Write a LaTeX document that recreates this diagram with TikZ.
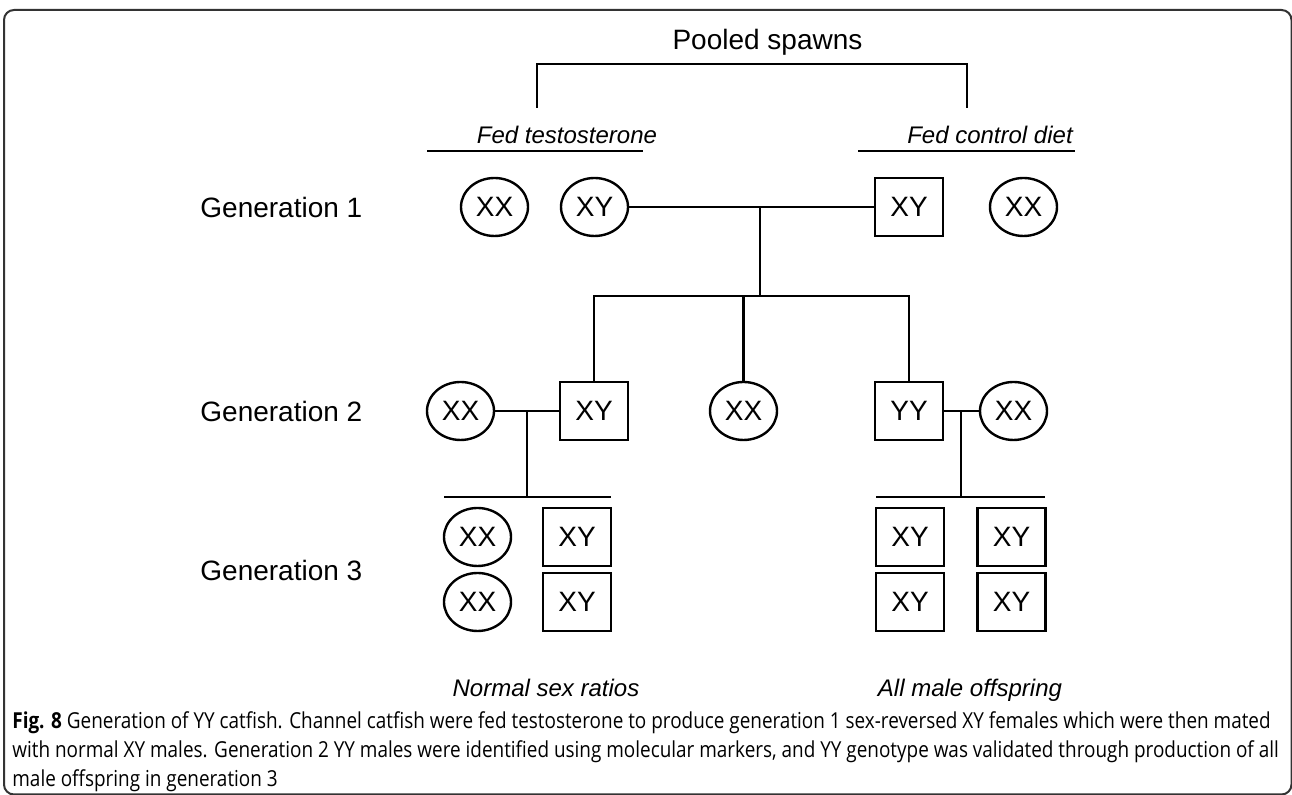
\documentclass[tikz,border=0pt]{standalone}
\usepackage{fontspec}
\setmainfont{Liberation Sans}
\newfontfamily\capfont[FakeStretch=0.86]{Open Sans}
\usetikzlibrary{shapes.geometric}

\tikzset{
	fem/.style={draw,ellipse,line width=1.2pt,minimum width=33.5pt,minimum height=29pt,inner sep=0pt,font=\fontsize{14}{14}\selectfont},
	mal/.style={draw,rectangle,line width=1.2pt,minimum width=34pt,minimum height=29pt,inner sep=0pt,font=\fontsize{14}{14}\selectfont},
	genlabel/.style={anchor=base west,inner sep=0pt,font=\fontsize{14}{16}\selectfont},
	note/.style={anchor=base,inner sep=0pt,font=\fontsize{12}{14}\selectfont\itshape},
	capline/.style={anchor=base west,inner sep=0pt,font=\capfont\fontsize{11}{13}\selectfont},
	link/.style={line width=1.2pt}
}

\begin{document}
\begin{tikzpicture}[x=0.5pt,y=-0.5pt]
		\useasboundingbox (0,0) rectangle (1292,795);
		\draw[line width=1pt,color=black!80,rounded corners=5pt] (4,10) rectangle (1291.5,794.5);
		% top bracket
		\node[anchor=base,inner sep=0pt,font=\fontsize{14}{16}\selectfont] (pool) at (767.5,50) {Pooled spawns};
		\draw[link] (537,108) -- (537,64) -- (967,64) -- (967,108);
		\node[note] (fedt) at (567,144) {Fed testosterone};
		\node[note] (fedc) at (990,144) {Fed control diet};
		\draw[link] (427,151) -- (643,151);
		\draw[link] (858,151) -- (1075,151);
		% generation labels
		\node[genlabel] (gen1) at (200,218) {Generation 1};
		\node[genlabel] (gen2) at (200,422) {Generation 2};
		\node[genlabel] (gen3) at (200,581) {Generation 3};
		% generation 1
		\node[fem] (g1a) at (494.5,207) {XX};
		\node[fem] (g1b) at (594.5,207) {XY};
		\node[mal] (g1c) at (909,207) {XY};
		\node[fem] (g1d) at (1023.5,207) {XX};
		\draw[link] (g1b) -- (g1c);
		\coordinate (m1) at (760,207);
		\coordinate (b1) at (760,296);
		\draw[link] (m1) -- (b1);
		% generation 2
		\node[fem] (g2a) at (460.5,411) {XX};
		\node[mal] (g2b) at (594,411) {XY};
		\node[fem] (g2c) at (743.5,411) {XX};
		\node[mal] (g2d) at (909,411) {YY};
		\node[fem] (g2e) at (1013.5,411) {XX};
		\draw[link] (g2b.north) -- (g2b.north |- b1) -- (g2d.north |- b1) -- (g2d.north);
		\draw[link] (g2c.north) -- (g2c.north |- b1);
		\draw[link] (g2a) -- (g2b);
		\draw[link] (g2d) -- (g2e);
		\coordinate (m2) at (527,411);
		\coordinate (b2) at (527,497);
		\coordinate (m3) at (961,411);
		\coordinate (b3) at (961,497);
		\draw[link] (m2) -- (b2);
		\draw[link] (m3) -- (b3);
		\draw[link] (444,497) -- (611,497);
		\draw[link] (876,497) -- (1045,497);
		% generation 3
		\node[fem] (g3a) at (477.5,537) {XX};
		\node[mal] (g3b) at (577,537) {XY};
		\node[fem] (g3c) at (477.5,602) {XX};
		\node[mal] (g3d) at (577,602) {XY};
		\node[mal] (g3e) at (910,537) {XY};
		\node[mal] (g3f) at (1011.5,537) {XY};
		\node[mal] (g3g) at (910,602) {XY};
		\node[mal] (g3h) at (1011.5,602) {XY};
		\node[note] (normal) at (546,697) {Normal sex ratios};
		\node[note] (allmale) at (970,697) {All male offspring};
		% caption
		\node[capline] (cap1) at (12,729) {\textbf{Fig. 8} Generation of YY catfish. Channel catfish were fed testosterone to produce generation 1 sex-reversed XY females which were then mated};
		\node[capline] (cap2) at (12,758) {with normal XY males. Generation 2 YY males were identified using molecular markers, and YY genotype was validated through production of all};
		\node[capline] (cap3) at (12,787) {male offspring in generation 3};
		\end{tikzpicture}
\end{document}
